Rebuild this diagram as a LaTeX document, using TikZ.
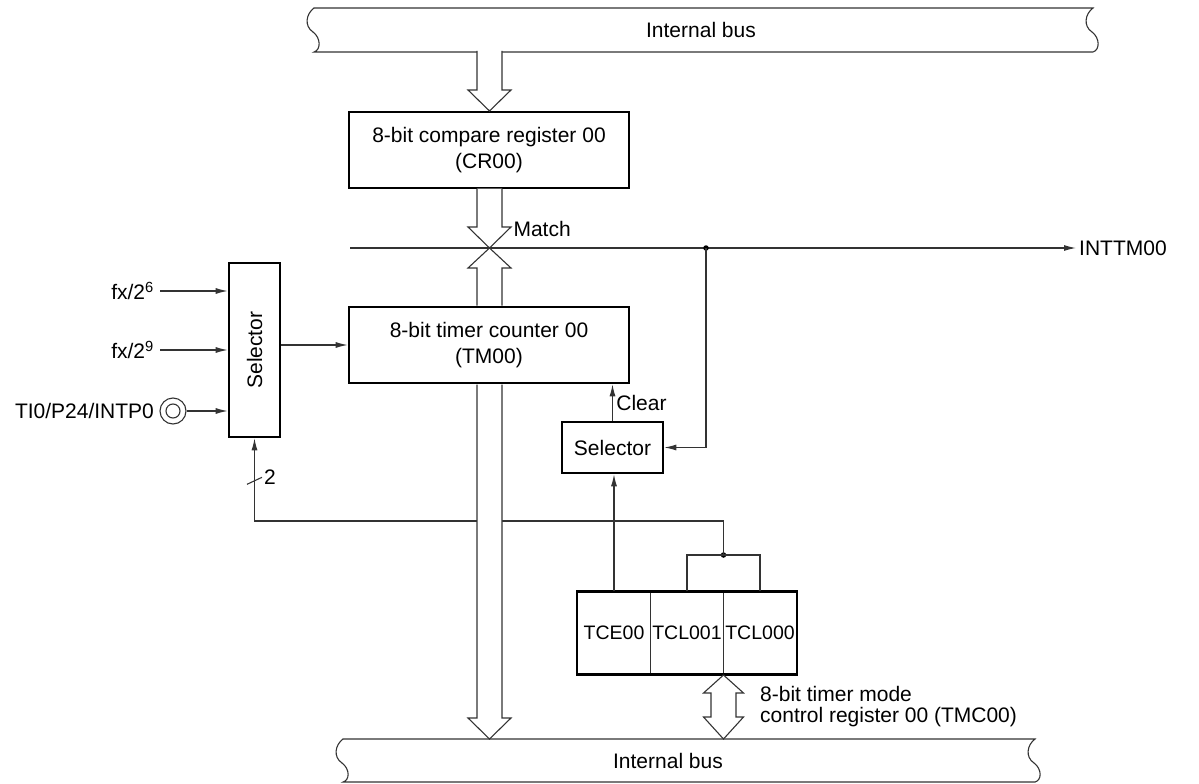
\documentclass[tikz,border=0pt]{standalone}
\usepackage{fontspec}
\setmainfont{Liberation Sans}
\usetikzlibrary{calc,arrows.meta,positioning}
\tikzset{
	bloc/.style={draw, line width=2.6pt, align=center, inner sep=0pt},
	fil/.style={draw=black!80, line width=1.1pt},
	fleche/.style={fil, -{Latex[length=12pt,width=6pt]}},
	bus/.style={fil, fill=white},
	point/.style={circle, fill=black, inner sep=0pt, minimum size=5.5pt},
}
\begin{document}
\begin{tikzpicture}[x=1pt,y=-1pt,font=\fontsize{21}{26}\selectfont]
	\useasboundingbox (0,0) rectangle (1199,784);
	\draw[fil] (314,8) -- (1093,8) .. controls (1085,14) and (1083,26) .. (1092,32) .. controls (1100,38) and (1100,50) .. (1093,52)
		-- (314,52) .. controls (321,50) and (321,38) .. (313,32) .. controls (304,26) and (306,14) .. (314,8) -- cycle;
	\draw[fil] (343,739) -- (1035,739) .. controls (1027,745) and (1025,757) .. (1034,763) .. controls (1042,769) and (1042,780) .. (1035,782)
		-- (343,782) .. controls (350,780) and (350,769) .. (342,763) .. controls (333,757) and (335,745) .. (343,739) -- cycle;
	\node (busH) at (701,30) {Internal bus};
	\node (busB) at (668,761) {Internal bus};
	\node[bloc, minimum width=280pt, minimum height=76pt] (cr) at (489,150) {8-bit compare register 00\\(CR00)};
	\node[bloc, minimum width=280pt, minimum height=76pt] (tm) at (489,345) {8-bit timer counter 00\\(TM00)};
	\node[bloc, minimum width=51pt, minimum height=174pt] (selA) at (254.5,350) {\rotatebox{90}{Selector}};
	\node[bloc, minimum width=101pt, minimum height=51pt] (selB) at (612.5,447.5) {Selector};
	\foreach \nom/\txt/\x in {tce/TCE00/614, tclA/TCL001/687, tclB/TCL000/760}
		\node[fil, minimum width=73pt, minimum height=82pt, inner sep=0pt, font=\fontsize{19.5}{22}\selectfont] (\nom) at (\x,633) {\txt};
	\draw[bloc] (tce.north west) rectangle (tclB.south east);
	\node[anchor=east, inner sep=6pt] (fA) at (160,291) {fx/2\textsuperscript{6}};
	\node[anchor=east, inner sep=6pt] (fB) at (160,350) {fx/2\textsuperscript{9}};
	\node[circle, fil, minimum size=26pt, inner sep=0pt] (ti) at (173,411) {};
	\draw[fil] (ti) circle (7pt);
	\node[left=2pt of ti] (tiL) {TI0/P24/INTP0};
	\foreach \e in {fA, fB, ti}
		\draw[fleche] (\e.east) -- (\e.east -| selA.west);
	\draw[fleche] (selA.east |- tm.west) -- (tm.west);
	\coordinate (mA) at (350,248);
	\node[anchor=west, inner sep=3pt] (intt) at (1076,248) {INTTM00};
	\draw[fleche] (mA) -- (intt.west);
	\node[anchor=west] (match) at (510,229) {Match};
	\node[point] (pA) at (706,248) {};
	\draw[fleche] (pA.center) |- (selB.east);
	\draw[fleche] (selB.north) -- (selB.north |- tm.south) node[midway, right] {Clear};
	\draw[fleche] (tce.north) -- (tce.north |- selB.south);
	\node[point] (pB) at (723.5,555) {};
	\draw[fil] (tclA.north) |- (pB.center) -| (tclB.north);
	\coordinate (cmd) at (723.5,521);
	\draw[fleche] (pB.center) -- (cmd) -| (selA.south);
	\draw[fil] ($(selA.south)+(-7.5,46)$) -- ++(15,-7) node[right, inner sep=1.5pt] (nb) {2};
	\foreach \ya/\yb/\yc in {51/90/111, 188.5/227/248, 305.5/268/248, 384.5/718/739}
		\filldraw[bus] (477,\ya) -- (477,\yb) -- (468,\yb) -- (489.5,\yc) -- (511,\yb) -- (502,\yb) -- (502,\ya);
	\filldraw[bus] (711,717) -- (711,693) -- (703.5,693) -- (723.5,675) -- (743.5,693) -- (736,693) -- (736,717)
		-- (743.5,717) -- (723.5,739) -- (703.5,717) -- cycle;
	\node[anchor=north west, align=left, inner sep=0pt, font=\fontsize{21}{21.5}\selectfont] (tmcL) at (760,686)
		{8-bit timer mode\\control register 00 (TMC00)};
\end{tikzpicture}
\end{document}
